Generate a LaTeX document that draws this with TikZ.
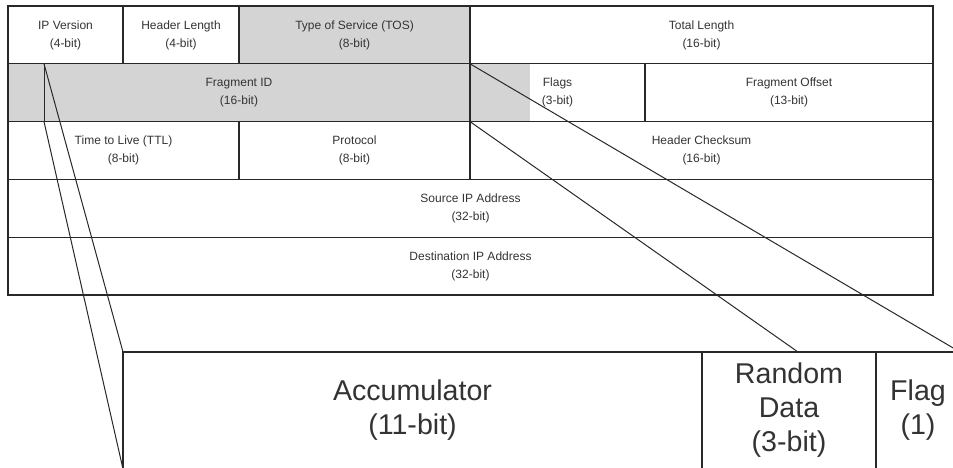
\documentclass[tikz,border=0pt]{standalone}
\usepackage{fontspec}
\setmainfont{Liberation Sans}
\usetikzlibrary{positioning,backgrounds}
\definecolor{fieldgray}{RGB}{212,212,212}
\definecolor{inkgray}{RGB}{40,40,40}

\begin{document}
\begin{tikzpicture}[x=1pt, y=-1pt, node distance=0pt,
    cell/.style={draw=inkgray, line width=1.2pt, minimum width=#1, minimum height=57.8pt,
        inner sep=0pt, outer sep=0pt, align=center, text=black!80, font=\fontsize{12}{18}\selectfont},
    bigcell/.style={draw=inkgray, line width=1.2pt, minimum width=#1, minimum height=117pt,
        inner sep=0pt, outer sep=0pt, align=center, text=black!80, font=\fontsize{28.6}{34}\selectfont},
    zoomline/.style={draw=inkgray, line width=1pt}]
    \useasboundingbox (0,0) rectangle (953,468);
    % IPv4 header
    \node[cell=115pt, anchor=north west] (ipv) at (8,6) {IP Version\\(4-bit)};
    \node[cell=116pt, right=of ipv] (hlen) {Header Length\\(4-bit)};
    \node[cell=231pt, fill=fieldgray, right=of hlen] (tos) {Type of Service (TOS)\\(8-bit)};
    \node[cell=463pt, right=of tos] (tlen) {Total Length\\(16-bit)};
    \node[cell=462pt, fill=fieldgray, below=of ipv.south west, anchor=north west] (fid) {Fragment ID\\(16-bit)};
    \node[cell=175pt, right=of fid] (flags) {Flags\\(3-bit)};
    \node[cell=288pt, right=of flags] (foff) {Fragment Offset\\(13-bit)};
    \node[cell=231pt, below=of fid.south west, anchor=north west] (ttl) {Time to Live (TTL)\\(8-bit)};
    \node[cell=231pt, right=of ttl] (proto) {Protocol\\(8-bit)};
    \node[cell=463pt, right=of proto] (cksum) {Header Checksum\\(16-bit)};
    \node[cell=925pt, below=of ttl.south west, anchor=north west] (src) {Source IP Address\\(32-bit)};
    \node[cell=925pt, below=of src.south west, anchor=north west] (dst) {Destination IP Address\\(32-bit)};
    \begin{scope}[on background layer]
        \fill[fieldgray] (flags.north west) rectangle ([xshift=60pt]flags.south west);
    \end{scope}
    % zoomed field
    \node[bigcell=579pt, anchor=north west] (acc) at (123,352) {Accumulator\\(11-bit)};
    \node[bigcell=174pt, right=of acc] (rnd) {Random\\Data\\(3-bit)};
    \node[bigcell=84pt, right=of rnd] (flg) {Flag\\(1)};
    % Connect zoom
    \coordinate (fidtop) at ([xshift=36pt]fid.north west);
    \coordinate (fidbot) at ([xshift=36pt]fid.south west);
    \draw[zoomline] (fidtop) -- (fidbot);
    \draw[zoomline] (fidtop) -- (acc.north west);
    \draw[zoomline] (fidbot) -- (acc.south west);
    \draw[zoomline] (fid.north east) -- (flg.north east);
    \draw[zoomline] (fid.south east) -- ([xshift=9pt]rnd.north);
\end{tikzpicture}
\end{document}
